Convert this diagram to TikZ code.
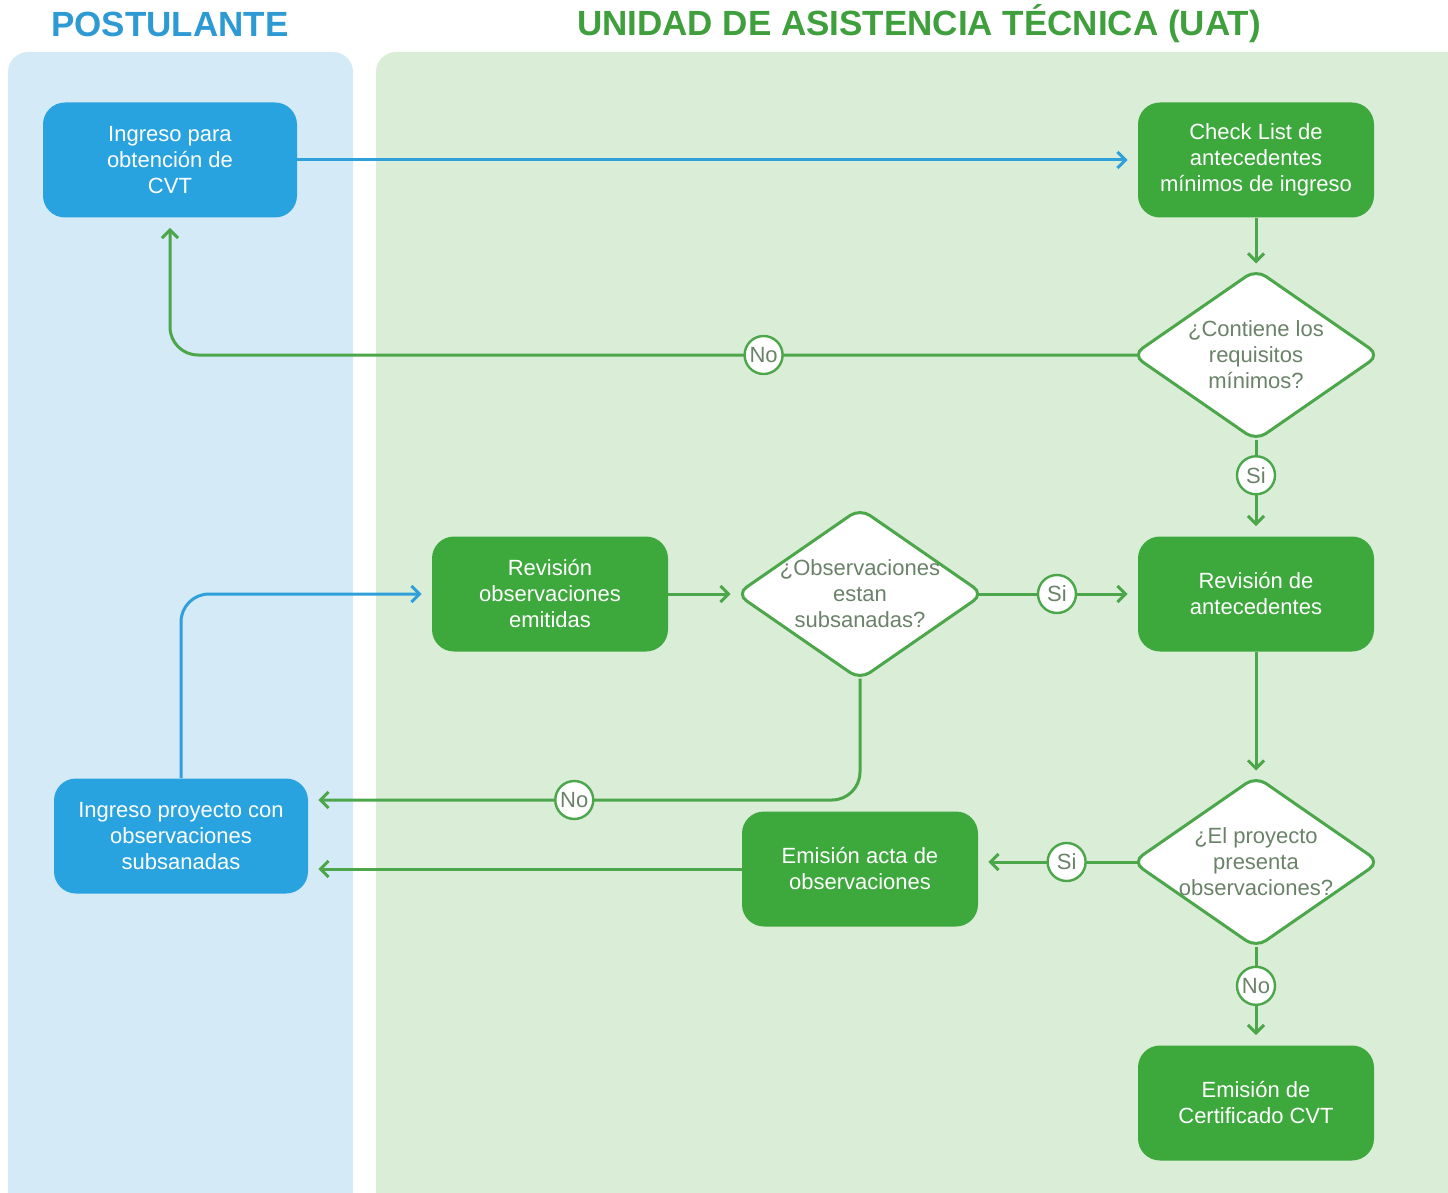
\documentclass[tikz,border=0pt]{standalone}
\usepackage{fontspec}
\setmainfont{Liberation Sans}
\usetikzlibrary{shapes.geometric,arrows.meta}

\definecolor{laneblue}{HTML}{D5EAF7}
\definecolor{lanegreen}{HTML}{DAEDD7}
\definecolor{boxblue}{HTML}{29A3E0}
\definecolor{boxgreen}{HTML}{3DA83C}
\definecolor{linegreen}{HTML}{4CA64A}
\definecolor{lineblue}{HTML}{2FA0DA}
\definecolor{titleblue}{HTML}{2E9AD3}
\definecolor{titlegreen}{HTML}{3E9F3C}
\definecolor{asktext}{HTML}{6A8368}

\tikzset{
	boxfont/.style={font=\fontsize{11}{13}\selectfont},
	procblue/.style={rectangle, rounded corners=11pt, fill=boxblue, text=white, minimum width=127pt, minimum height=57.5pt, align=center, boxfont},
	procgreen/.style={procblue, fill=boxgreen, minimum width=118pt},
	decision/.style={diamond, draw=linegreen, line width=1.5pt, fill=white, rounded corners=6pt, minimum width=124pt, minimum height=86pt, inner sep=0pt},
	asklabel/.style={text=asktext, align=center, boxfont},
	choice/.style={circle, draw=linegreen, line width=1.2pt, fill=white, text=asktext, inner sep=0pt, minimum size=19pt, boxfont},
	flowg/.style={draw=linegreen, line width=1.5pt, -{Straight Barb[length=4pt,width=8pt]}, shorten >=5pt, rounded corners=14pt},
	flowb/.style={flowg, draw=lineblue},
	sideout/.style={shorten <=-4.5pt},
	downout/.style={shorten <=-1.5pt},
	title/.style={font=\fontsize{17.5}{20}\selectfont\bfseries}
}

\begin{document}
\begin{tikzpicture}[x=0.5pt, y=-0.5pt]
		\useasboundingbox (0,0) rectangle (1448,1193);
		% lanes
		\fill[laneblue, rounded corners=10pt] (8,52) rectangle (353,1215);
		\fill[lanegreen, rounded corners=10pt] (376,52) rectangle (1470,1215);
		% titles
		\node[title, text=titleblue] (tpost) at (170,24) {POSTULANTE};
		\node[title, text=titlegreen] (tuat) at (919,24) {UNIDAD DE ASISTENCIA TÉCNICA (UAT)};
		% postulante
		\node[procblue] (cvt) at (170,160) {Ingreso para\\obtención de\\CVT};
		\node[procblue] (ipo) at (181,836) {Ingreso proyecto con\\observaciones\\subsanadas};
		% uat
		\node[procgreen] (cl) at (1256,160) {Check List de\\antecedentes\\mínimos de ingreso};
		\node[decision, label={[asklabel]center:{¿Contiene los\\requisitos\\mínimos?}}] (q1) at (1256,355) {};
		\node[procgreen] (ra) at (1256,594) {Revisión de\\antecedentes};
		\node[procgreen] (rev) at (550,594) {Revisión\\observaciones\\emitidas};
		\node[decision, label={[asklabel]center:{¿Observaciones\\estan\\subsanadas?}}] (q2) at (860,594) {};
		\node[decision, label={[asklabel]center:{¿El proyecto\\presenta\\observaciones?}}] (q3) at (1256,862) {};
		\node[procgreen] (acta) at (860,869) {Emisión acta de\\observaciones};
		\node[procgreen] (cert) at (1256,1103) {Emisión de\\Certificado CVT};
		% connectors
		\draw[flowb] (cvt.east) -- (cl.west);
		\draw[flowg, shorten >=2pt] (cl.south) -- (q1.north);
		\draw[flowg, sideout] (q1.west) -| node[choice, pos=0.191] (no1) {No} (cvt.south);
		\draw[flowg, downout] (q1.south) -- node[choice, pos=0.35] (si1) {Si} (ra.north);
		\draw[flowg, shorten >=2pt] (ra.south) -- (q3.north);
		\draw[flowg, sideout] (q3.west) -- node[choice, pos=0.42] (si3) {Si} (q3.west -| acta.east);
		\draw[flowg, downout] (q3.south) -- node[choice, pos=0.38] (no3) {No} (cert.north);
		\draw[flowg] (acta.west) -- (acta.west -| ipo.east);
		\draw[flowg, downout] (q2.south) |- node[choice, pos=0.759] (no2) {No} ([yshift=18pt]ipo.east);
		\draw[flowg, sideout] (q2.east) -- node[choice, pos=0.47] (si2) {Si} (ra.west);
		\draw[flowg, shorten >=2pt] (rev.east) -- (q2.west);
		\draw[flowb] (ipo.north) |- (rev.west);
\end{tikzpicture}
\end{document}
